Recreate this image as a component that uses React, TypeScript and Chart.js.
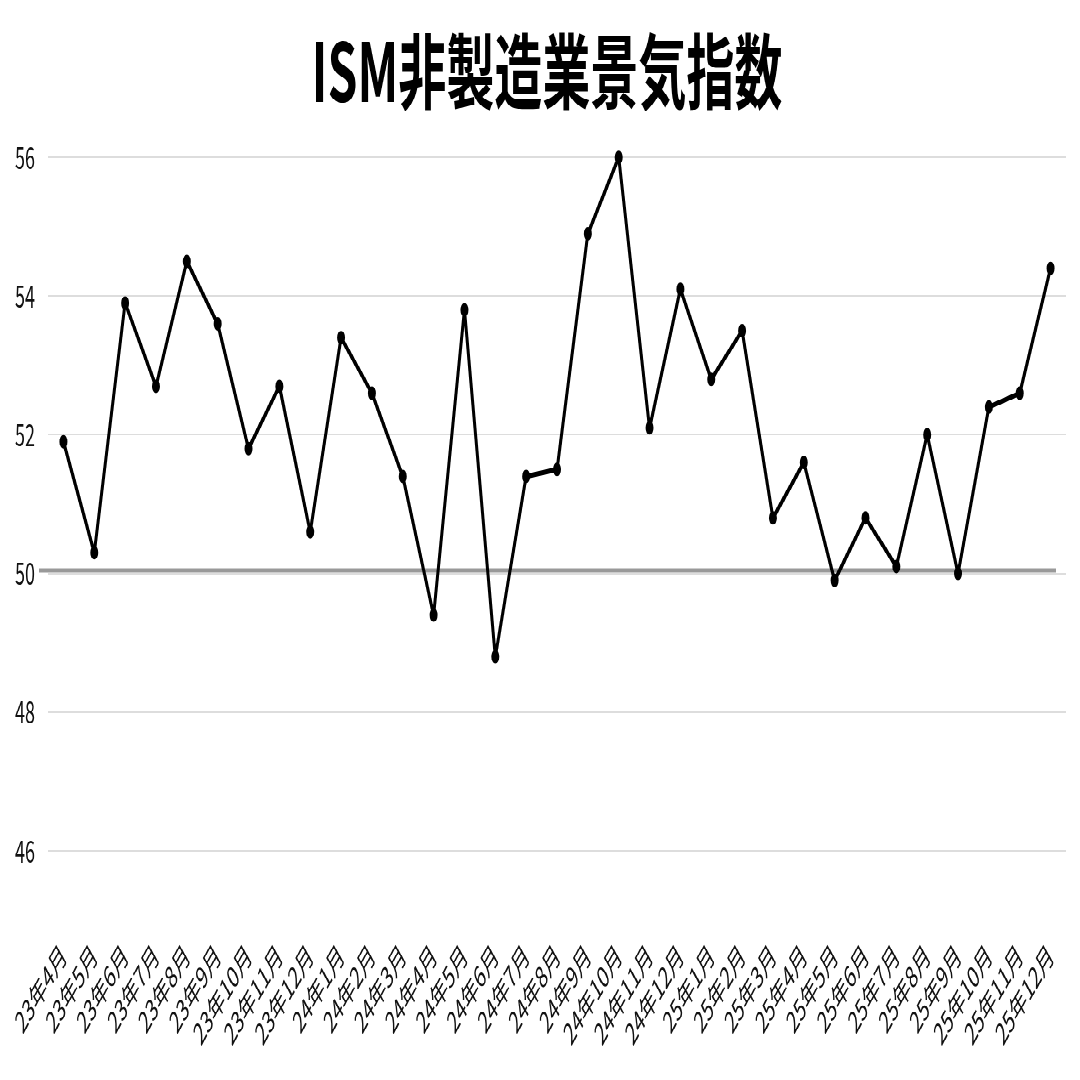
import { useEffect, useRef } from 'react';
import { Chart, registerables } from 'chart.js';

Chart.register(...registerables);

const LABELS = [
  '23年4月', '23年5月', '23年6月', '23年7月', '23年8月', '23年9月', '23年10月', '23年11月', '23年12月',
  '24年1月', '24年2月', '24年3月', '24年4月', '24年5月', '24年6月', '24年7月', '24年8月', '24年9月',
  '24年10月', '24年11月', '24年12月',
  '25年1月', '25年2月', '25年3月', '25年4月', '25年5月', '25年6月', '25年7月', '25年8月', '25年9月',
  '25年10月', '25年11月', '25年12月',
];

const ISM_VALUES = [
  51.9, 50.3, 53.9, 52.7, 54.5, 53.6, 51.8, 52.7, 50.6,
  53.4, 52.6, 51.4, 49.4, 53.8, 48.8, 51.4, 51.5, 54.9,
  56.0, 52.1, 54.1,
  52.8, 53.5, 50.8, 51.6, 49.9, 50.8, 50.1, 52.0, 50.0,
  52.4, 52.6, 54.4,
];

const Y_TICKS = [46, 48, 50, 52, 54, 56];
const Y_MIN = 45;
const Y_MAX = 56;
const BASELINE = 50;

// the source image was stretched vertically; draw flat and stretch the same way
const STRETCH = 1.7;
const WIDTH = 1080;
const HEIGHT = 1080 / STRETCH;

const FONT = '"Noto Sans CJK JP", "Noto Sans", sans-serif';

const baselinePlugin = {
  id: 'baseline50',
  beforeDatasetsDraw(chart: Chart) {
    const { ctx, chartArea, scales } = chart;
    const y = scales.y.getPixelForValue(BASELINE) - 1.8;
    ctx.save();
    ctx.strokeStyle = '#999999';
    ctx.lineWidth = 2.4;
    ctx.beginPath();
    ctx.moveTo(chartArea.left - 9, y);
    ctx.lineTo(chartArea.right - 10, y);
    ctx.stroke();
    ctx.restore();
  },
};

export default function App() {
  const chartRef = useRef<HTMLCanvasElement>(null);
  const chartInstance = useRef<Chart | null>(null);

  useEffect(() => {
    if (!chartRef.current) return;
    if (chartInstance.current) chartInstance.current.destroy();

    const ctx = chartRef.current.getContext('2d');
    if (!ctx) return;

    chartInstance.current = new Chart(ctx, {
      type: 'line',
      data: {
        labels: LABELS,
        datasets: [
          {
            data: ISM_VALUES,
            borderColor: '#000000',
            backgroundColor: '#000000',
            borderWidth: 3,
            borderJoinStyle: 'round',
            pointRadius: 3.5,
            pointBorderWidth: 1,
            pointBackgroundColor: '#000000',
            pointBorderColor: '#000000',
            tension: 0,
            clip: false,
          },
        ],
      },
      options: {
        responsive: true,
        maintainAspectRatio: false,
        animation: false,
        devicePixelRatio: 2,
        layout: {
          padding: { top: 13, left: 14, right: 0, bottom: 15 },
        },
        plugins: {
          legend: { display: false },
          tooltip: { enabled: false },
          title: {
            display: true,
            text: 'ISM非製造業景気指数',
            color: '#000000',
            font: { family: FONT, size: 48, weight: 'bold' },
            padding: { top: 0, bottom: 22 },
          },
        },
        scales: {
          x: {
            offset: true,
            grid: { display: false },
            border: { display: false },
            afterFit: (scale: any) => {
              scale.paddingLeft = 0;
              scale.paddingRight = 0;
            },
            ticks: {
              autoSkip: false,
              minRotation: 45,
              maxRotation: 45,
              color: '#111111',
              padding: 2,
              font: { family: FONT, size: 17.5 },
            },
          },
          y: {
            min: Y_MIN,
            max: Y_MAX,
            afterBuildTicks: (scale: any) => {
              scale.ticks = Y_TICKS.map((value) => ({ value }));
            },
            afterFit: (scale: any) => {
              scale.width = 34;
            },
            grid: { color: '#dddddd', lineWidth: 1, drawTicks: false },
            border: { display: false },
            ticks: {
              color: '#111111',
              padding: 13,
              font: { family: FONT, size: 18 },
            },
          },
          // empty right-hand gutter so the title sits a little right of centre
          gutter: {
            type: 'linear',
            position: 'right',
            grid: { display: false },
            border: { display: false },
            ticks: { display: false },
            afterFit: (scale: any) => {
              scale.width = 14;
            },
          },
        },
      },
      plugins: [baselinePlugin],
    });

    return () => {
      if (chartInstance.current) {
        chartInstance.current.destroy();
        chartInstance.current = null;
      }
    };
  }, []);

  return (
    <div
      style={{
        position: 'fixed',
        left: 0,
        top: 0,
        width: WIDTH,
        height: HEIGHT,
        background: '#ffffff',
        transform: `scaleY(${STRETCH})`,
        transformOrigin: 'top left',
      }}
    >
      <canvas ref={chartRef} />
    </div>
  );
}
